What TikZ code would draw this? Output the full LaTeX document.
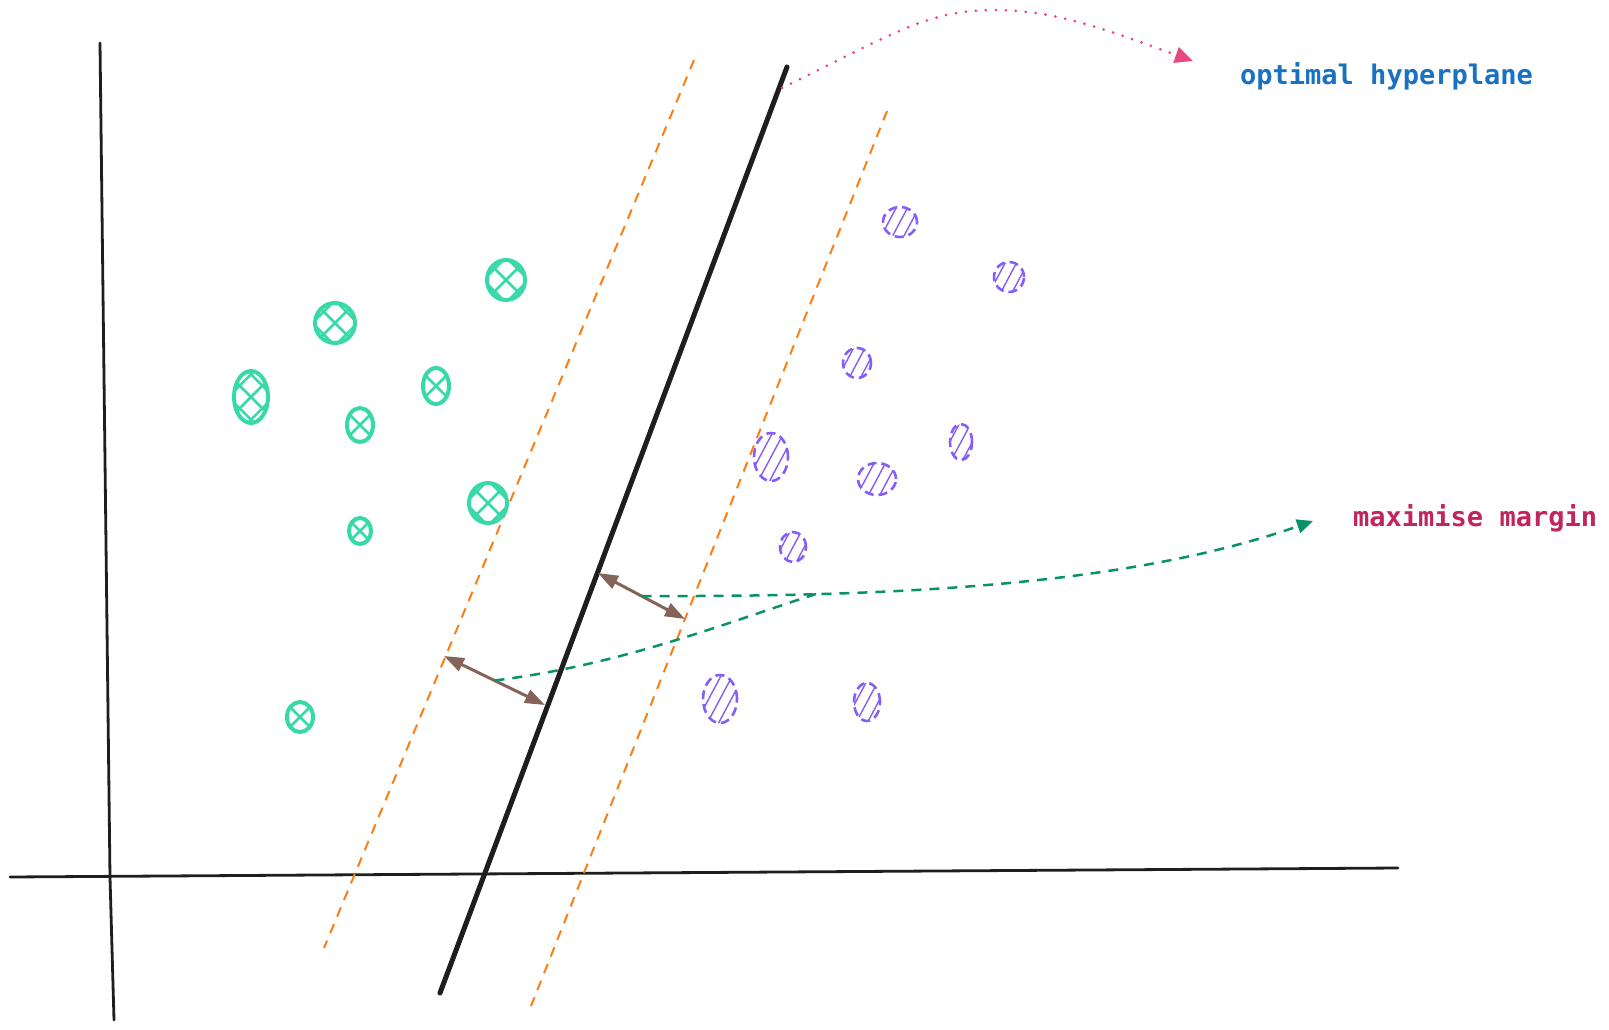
\documentclass[tikz,border=0pt]{standalone}
\usepackage{fontspec}
\setmonofont{DejaVu Sans Mono}
\usetikzlibrary{arrows.meta,shapes.geometric,calc}
\definecolor{gteal}{HTML}{38D9A9}
\definecolor{pviolet}{HTML}{845EF7}
\definecolor{orng}{HTML}{FD7E14}
\definecolor{dgreen}{HTML}{099268}
\definecolor{pinkc}{HTML}{E64980}
\definecolor{brn}{HTML}{846358}
\definecolor{blu}{HTML}{1971C2}
\definecolor{crim}{HTML}{C2255C}
\definecolor{ink}{HTML}{1E1E1E}
\tikzset{
  axisline/.style={ink, line width=2.8pt, line cap=round},
  hyper/.style={ink, line width=5pt, line cap=round},
  marginline/.style={orng, line width=2pt, dash pattern=on 10pt off 8pt},
  gaparrow/.style={brn, line width=3pt, {Triangle[length=20pt,width=14pt]}-{Triangle[length=20pt,width=14pt]}},
  noteline/.style={dgreen, line width=2.5pt, dash pattern=on 10pt off 8pt},
  hintline/.style={pinkc, line width=3pt, line cap=round, dash pattern=on 0pt off 10pt},
  lbl/.style={font=\ttfamily\bfseries\fontsize{27}{32}\selectfont, inner sep=0pt, anchor=base west},
  gring/.style={ellipse, draw=gteal, line width=4pt, inner sep=0pt},
  ghatch/.style={gteal, line width=2.5pt},
  pring/.style={ellipse, draw=pviolet, line width=2.6pt, inner sep=0pt, dash pattern=on 9pt off 5pt},
  phatch/.style={pviolet, line width=1.4pt},
}
\newcommand\gpoint[5]{% name, x, y, rx, ry
  \begin{scope}[shift={(#2,#3)}]
    \clip (0,0) ellipse [x radius=#4pt, y radius=#5pt];
    \foreach \o in {-16,0,16}{
      \draw[ghatch, rotate=45] (-40pt,\o*1pt) -- (40pt,\o*1pt);
      \draw[ghatch, rotate=-45] (-40pt,\o*1pt) -- (40pt,\o*1pt);
    }
  \end{scope}
  \node[gring, minimum width=2*#4 pt, minimum height=2*#5 pt] (#1) at (#2,#3) {};
}
\newcommand\ppoint[5]{% name, x, y, rx, ry
  \begin{scope}[shift={(#2,#3)}]
    \clip (0,0) ellipse [x radius=#4pt, y radius=#5pt];
    \foreach \o in {-30,-20,-10,0,10,20,30}{
      \draw[phatch, rotate=62] (-40pt,\o*1pt) -- (40pt,\o*1pt);
    }
  \end{scope}
  \node[pring, minimum width=2*#4 pt, minimum height=2*#5 pt] (#1) at (#2,#3) {};
}
\begin{document}
\begin{tikzpicture}[x=1pt,y=-1pt]
\useasboundingbox (0,0) rectangle (1609,1030);
% axes
\coordinate (yt) at (100,43);
\coordinate (ym) at (110,877);
\coordinate (yb) at (114,1020);
\coordinate (xl) at (10,877);
\coordinate (xr) at (1398,868);
\draw[axisline] (yt) -- (ym) -- (yb);
\draw[axisline] (xl) -- (xr);
% margins and hyperplane
\coordinate (ml1) at (694,60);
\coordinate (ml2) at (324,948);
\coordinate (mr1) at (887,111);
\coordinate (mr2) at (531,1006);
\coordinate (h1) at (787,67);
\coordinate (h2) at (440,993);
\draw[marginline] (ml1) -- (ml2);
\draw[marginline] (mr1) -- (mr2);
\draw[hyper] (h1) -- (h2);
% green points
\gpoint{g1}{506}{280}{19}{20}
\gpoint{g2}{335}{323}{20}{20}
\gpoint{g3}{251}{397}{17}{26}
\gpoint{g4}{436}{386}{13}{18}
\gpoint{g5}{360}{425}{13}{17}
\gpoint{g6}{488}{503}{19}{20}
\gpoint{g7}{360}{531}{11}{13}
\gpoint{g8}{300}{717}{13}{15}
% violet points
\ppoint{p1}{900}{222}{17}{15}
\ppoint{p2}{1009}{277}{15}{15}
\ppoint{p3}{857}{363}{14}{15}
\ppoint{p4}{771}{457}{17}{24}
\ppoint{p5}{961}{442}{11}{18}
\ppoint{p6}{877}{479}{19}{16}
\ppoint{p7}{793}{547}{13}{15}
\ppoint{p8}{720}{699}{17}{24}
\ppoint{p9}{867}{702}{13}{19}
% gap arrows
\coordinate (a1) at (598,573);
\coordinate (a2) at (685,619);
\coordinate (b1) at (444,656);
\coordinate (b2) at (545,705);
\draw[gaparrow] (a1) -- (a2);
\draw[gaparrow] (b1) -- (b2);
% labels
\node[lbl, text=blu] (t1) at (1240,85) {optimal hyperplane};
\node[lbl, text=crim] (t2) at (1353,526) {maximise margin};
% annotation arrows
\coordinate (am) at ($(a1)!0.5!(a2)$);
\coordinate (bm) at ($(b1)!0.5!(b2)$);
\coordinate (j) at (816,594);
\coordinate (gt) at (1313,521);
\draw[noteline, -{Triangle[length=16pt,width=14pt]}] (am) .. controls (900,597) and (1130,585) .. (gt);
\draw[noteline] (bm) .. controls (620,665) and (720,625) .. (j);
\coordinate (ps) at (782,88);
\coordinate (pk) at (995,10);
\coordinate (pt) at (1193,61);
\draw[hintline, -{Triangle[length=18pt,width=16pt]}] (ps) .. controls (900,30) and (930,10) .. (pk) .. controls (1060,10) and (1120,35) .. (pt);
\end{tikzpicture}
\end{document}
